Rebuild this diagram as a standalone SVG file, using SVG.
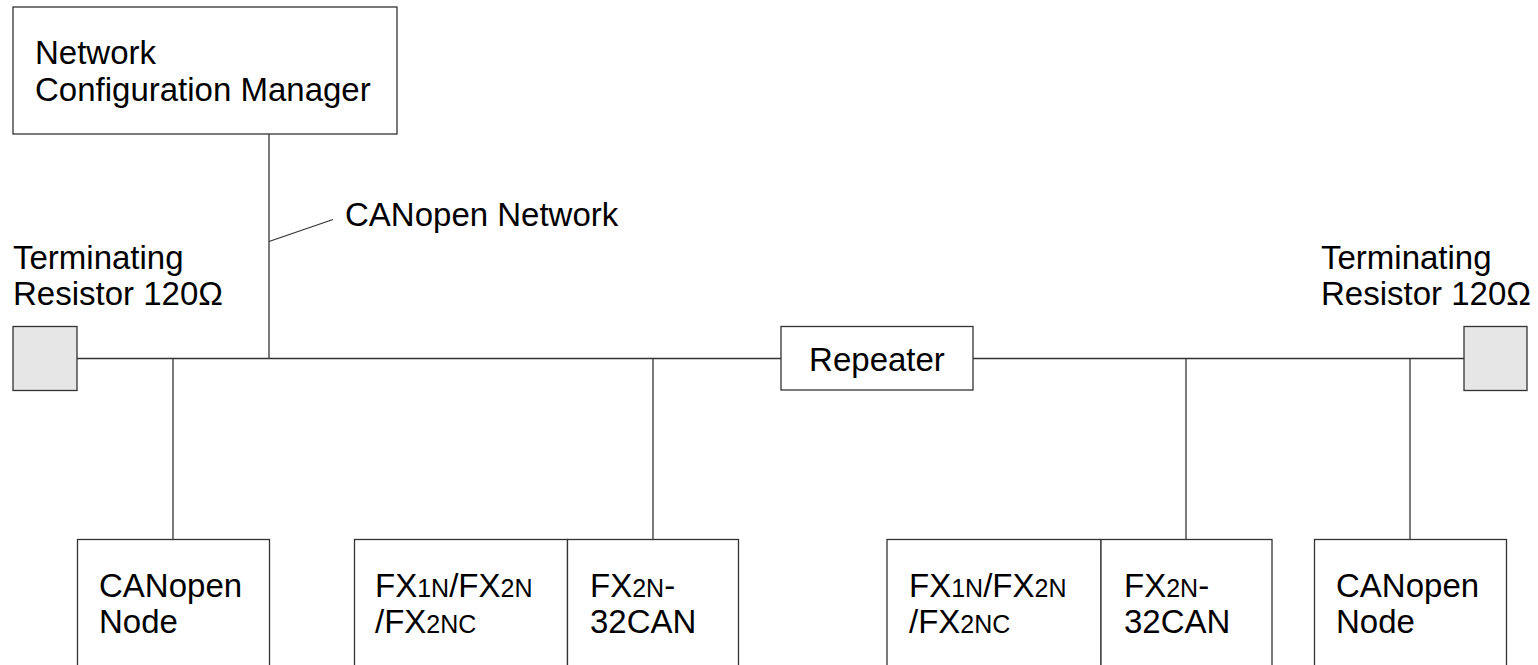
<svg xmlns="http://www.w3.org/2000/svg" width="1538" height="665" viewBox="0 0 1538 665">
<style>
.box{fill:#fff;stroke:#333;stroke-width:1.3}
.res{fill:#e6e6e6;stroke:#333;stroke-width:1.3}
.ln{stroke:#333;stroke-width:1.3;fill:none}
text{font-family:"Liberation Sans",Arial,sans-serif;font-size:33px;fill:#000}
.sub{font-size:25px}
</style>
<rect width="1538" height="665" fill="#fff"/>
<g id="connectors">
<line class="ln" x1="269" y1="134" x2="269" y2="358.5"/>
<line class="ln" x1="269" y1="241.5" x2="333" y2="219.5"/>
<line class="ln" x1="77" y1="358.5" x2="781" y2="358.5"/>
<line class="ln" x1="973" y1="358.5" x2="1464" y2="358.5"/>
<line class="ln" x1="173" y1="358.5" x2="173" y2="539.5"/>
<line class="ln" x1="653" y1="358.5" x2="653" y2="539.5"/>
<line class="ln" x1="1186" y1="358.5" x2="1186" y2="539.5"/>
<line class="ln" x1="1410" y1="358.5" x2="1410" y2="539.5"/>
</g>
<g id="ncm">
<rect class="box" x="13" y="7" width="384" height="127"/>
<text x="35" y="64">Network</text>
<text x="35" y="101">Configuration Manager</text>
</g>
<g id="canopen-network-label">
<text x="345" y="225.5">CANopen Network</text>
</g>
<g id="term-left">
<text x="13" y="269">Terminating</text>
<text x="13" y="305">Resistor 120Ω</text>
<rect class="res" x="13" y="326.5" width="64" height="64"/>
</g>
<g id="term-right">
<text x="1321" y="269">Terminating</text>
<text x="1321" y="305">Resistor 120Ω</text>
<rect class="res" x="1464" y="326.5" width="63" height="64"/>
</g>
<g id="repeater">
<rect class="box" x="781" y="326.5" width="192" height="63.5"/>
<text x="877" y="370.5" text-anchor="middle">Repeater</text>
</g>
<g id="node-left">
<rect class="box" x="77.5" y="539.5" width="192" height="140"/>
<text x="99" y="597">CANopen</text>
<text x="99" y="633">Node</text>
</g>
<g id="fx-left">
<rect class="box" x="354.5" y="539.5" width="213" height="140"/>
<text x="375" y="597">FX<tspan class="sub">1N</tspan>/FX<tspan class="sub">2N</tspan></text>
<text x="375" y="633">/FX<tspan class="sub">2NC</tspan></text>
</g>
<g id="can-left">
<rect class="box" x="567.5" y="539.5" width="171" height="140"/>
<text x="590" y="597">FX<tspan class="sub">2N</tspan>-</text>
<text x="590" y="633">32CAN</text>
</g>
<g id="fx-right">
<rect class="box" x="887" y="539.5" width="214" height="140"/>
<text x="909" y="597">FX<tspan class="sub">1N</tspan>/FX<tspan class="sub">2N</tspan></text>
<text x="909" y="633">/FX<tspan class="sub">2NC</tspan></text>
</g>
<g id="can-right">
<rect class="box" x="1101" y="539.5" width="171" height="140"/>
<text x="1124" y="597">FX<tspan class="sub">2N</tspan>-</text>
<text x="1124" y="633">32CAN</text>
</g>
<g id="node-right">
<rect class="box" x="1314.5" y="539.5" width="192" height="140"/>
<text x="1336" y="597">CANopen</text>
<text x="1336" y="633">Node</text>
</g>
</svg>
